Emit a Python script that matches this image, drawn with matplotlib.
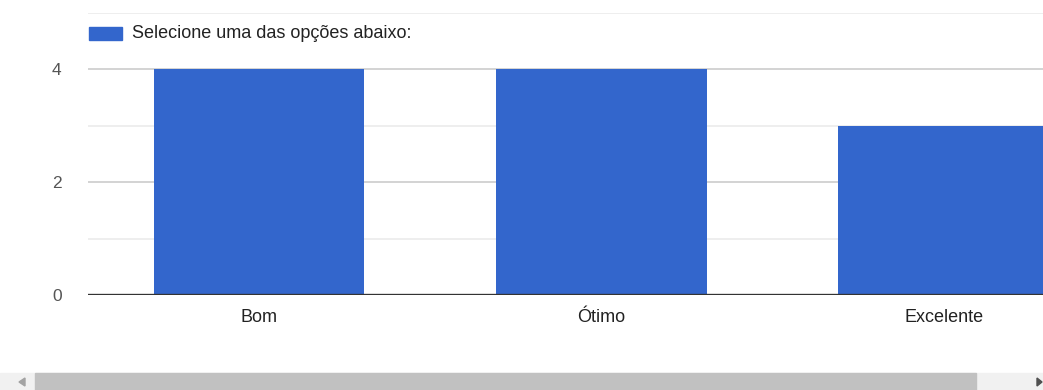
import matplotlib
matplotlib.use("Agg")
import matplotlib.pyplot as plt
from matplotlib.patches import Rectangle, Polygon

plt.rcParams['font.family'] = ['Liberation Sans', 'DejaVu Sans']

# Data
categories = ["Bom", "Ótimo", "Excelente"]
counts = [4, 4, 3]
series_name = "Selecione uma das opções abaixo:"
y_ticks = [0, 2, 4]
y_minor = [1, 3, 5]

BAR_COLOR = "#3366cc"
W, H = 1043, 390

fig = plt.figure(figsize=(W / 100, H / 100), dpi=100)
fig.patch.set_facecolor("white")

# Plot area: left edge at 88 px, zero line at 295 px, top gridline at 13 px
ax = fig.add_axes([88 / W, (H - 295) / H, 1 - 88 / W, (295 - 13) / H])
x = list(range(len(categories)))
ax.bar(x, counts, width=0.615, color=BAR_COLOR, zorder=3)

ax.set_xlim(-0.5, 2.29)
ax.set_ylim(0, 5)

for v in y_minor:
    ax.axhline(v, color="#ebebeb", lw=1.2, zorder=1)
for v in y_ticks[1:]:
    ax.axhline(v, color="#cccccc", lw=1.2, zorder=1)
ax.axhline(0, color="#333333", lw=2.4, zorder=4)

ax.set_yticks(y_ticks)
ax.set_yticklabels([str(t) for t in y_ticks])
ax.set_xticks(x)
ax.set_xticklabels(categories)
ax.tick_params(axis="y", length=0, pad=19, labelsize=12.5, labelcolor="#555555")
ax.tick_params(axis="x", length=0, pad=10, labelsize=13, labelcolor="#222222")
for s in ax.spines.values():
    s.set_visible(False)
ax.set_facecolor("none")

# Legend entry
fig.patches.append(Rectangle((89 / W, (H - 40) / H), 33 / W, 13 / H,
                             transform=fig.transFigure, color=BAR_COLOR))
fig.text(132 / W, (H - 33) / H, series_name, fontsize=13, color="#222222",
         va="center", ha="left")

# Horizontal scrollbar along the bottom
fig.patches.append(Rectangle((0, 0), 1, 17 / H, transform=fig.transFigure,
                             color="#f1f1f1", zorder=0))
fig.patches.append(Rectangle((35 / W, 0), (976 - 35) / W, 17 / H,
                             transform=fig.transFigure, color="#c1c1c1"))
fig.patches.append(Polygon([(19 / W, 8 / H), (25 / W, 12 / H), (25 / W, 4 / H)],
                           closed=True, transform=fig.transFigure, color="#a3a3a3"))
fig.patches.append(Polygon([(1042 / W, 8 / H), (1037 / W, 12 / H), (1037 / W, 4 / H)],
                           closed=True, transform=fig.transFigure, color="#505050"))

fig.savefig("out.png", dpi=100, facecolor="white")
